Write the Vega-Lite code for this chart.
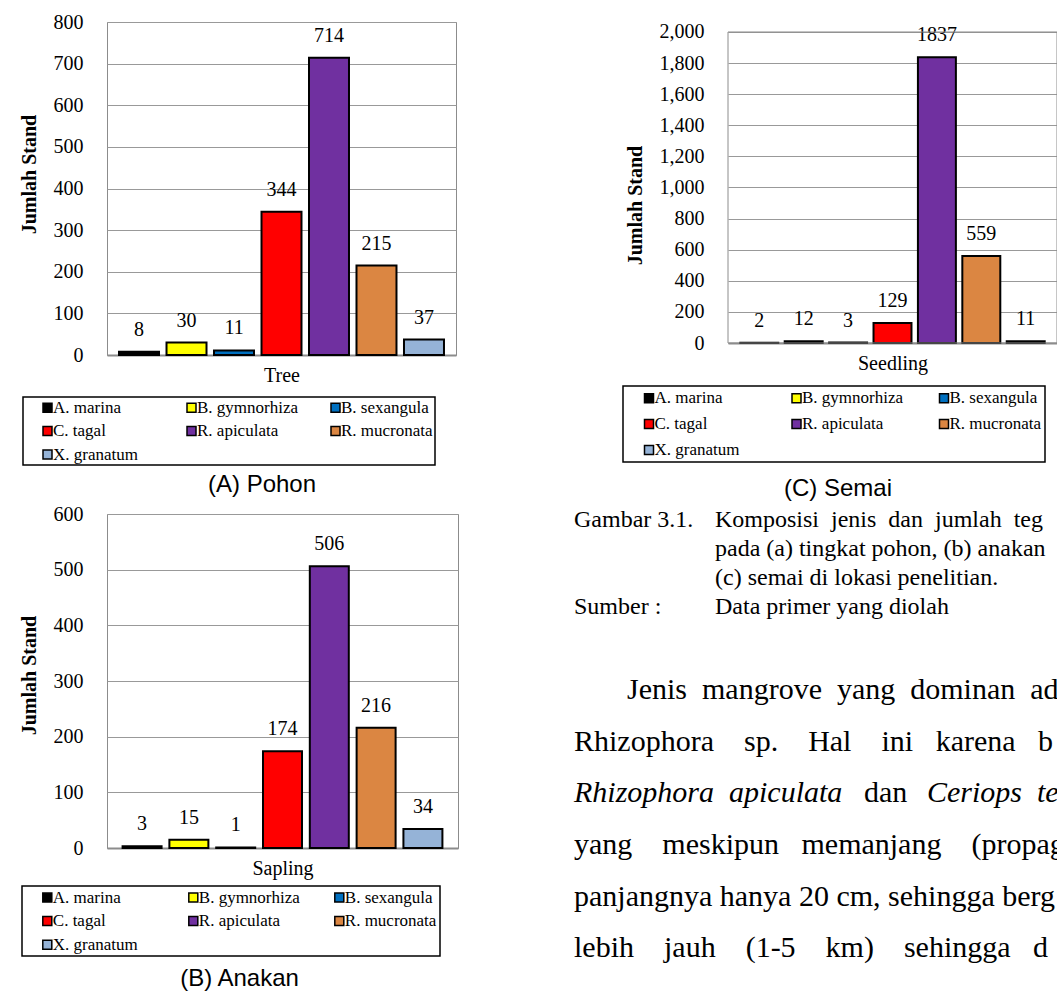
{
  "$schema": "https://vega.github.io/schema/vega-lite/v6.json",
  "background": "white",
  "padding": {"left": 18, "top": 11, "right": 0, "bottom": 0},
  "datasets": {
    "stands": [
      {"stage": "Tree", "species": "A. marina", "count": 8},
      {"stage": "Tree", "species": "B. gymnorhiza", "count": 30},
      {"stage": "Tree", "species": "B. sexangula", "count": 11},
      {"stage": "Tree", "species": "C. tagal", "count": 344},
      {"stage": "Tree", "species": "R. apiculata", "count": 714},
      {"stage": "Tree", "species": "R. mucronata", "count": 215},
      {"stage": "Tree", "species": "X. granatum", "count": 37},
      {"stage": "Sapling", "species": "A. marina", "count": 3},
      {"stage": "Sapling", "species": "B. gymnorhiza", "count": 15},
      {"stage": "Sapling", "species": "B. sexangula", "count": 1},
      {"stage": "Sapling", "species": "C. tagal", "count": 174},
      {"stage": "Sapling", "species": "R. apiculata", "count": 506},
      {"stage": "Sapling", "species": "R. mucronata", "count": 216},
      {"stage": "Sapling", "species": "X. granatum", "count": 34},
      {"stage": "Seedling", "species": "A. marina", "count": 2},
      {"stage": "Seedling", "species": "B. gymnorhiza", "count": 12},
      {"stage": "Seedling", "species": "B. sexangula", "count": 3},
      {"stage": "Seedling", "species": "C. tagal", "count": 129},
      {"stage": "Seedling", "species": "R. apiculata", "count": 1837},
      {"stage": "Seedling", "species": "R. mucronata", "count": 559},
      {"stage": "Seedling", "species": "X. granatum", "count": 11}
    ],
    "caption": [
      {"line": 1, "label": "Gambar 3.1.", "body": "Komposisi\u00a0\u00a0jenis\u00a0\u00a0dan\u00a0\u00a0jumlah\u00a0\u00a0teg"},
      {"line": 2, "label": "", "body": "pada (a) tingkat pohon, (b) anakan"},
      {"line": 3, "label": "", "body": "(c) semai di lokasi penelitian."},
      {"line": 4, "label": "Sumber :", "body": "Data primer yang diolah"}
    ],
    "paragraph": [
      {"line": 1, "seg": "indent", "text": "Jenis\u00a0\u00a0mangrove\u00a0\u00a0yang\u00a0\u00a0dominan\u00a0\u00a0ad"},
      {"line": 2, "seg": "full", "text": "Rhizophora\u00a0\u00a0\u00a0\u00a0sp.\u00a0\u00a0\u00a0\u00a0Hal\u00a0\u00a0\u00a0\u00a0ini\u00a0\u00a0\u00a0karena\u00a0\u00a0\u00a0b"},
      {"line": 3, "seg": "italic1", "text": "Rhizophora\u00a0\u00a0apiculata"},
      {"line": 3, "seg": "dan", "text": "dan"},
      {"line": 3, "seg": "italic2", "text": "Ceriops\u00a0\u00a0te"},
      {"line": 4, "seg": "full", "text": "yang\u00a0\u00a0\u00a0\u00a0meskipun\u00a0\u00a0\u00a0memanjang\u00a0\u00a0\u00a0\u00a0(propag"},
      {"line": 5, "seg": "full", "text": "panjangnya hanya 20 cm, sehingga berg"},
      {"line": 6, "seg": "full", "text": "lebih\u00a0\u00a0\u00a0\u00a0jauh\u00a0\u00a0\u00a0\u00a0(1-5\u00a0\u00a0\u00a0\u00a0km)\u00a0\u00a0\u00a0\u00a0sehingga\u00a0\u00a0\u00a0d"}
    ]
  },
  "spacing": 2,
  "resolve": {"scale": {"color": "independent"}, "legend": {"color": "independent"}},
  "vconcat": [
    {
      "hconcat": [
        {
          "width": 349, "height": 333,
          "data": {"name": "stands"},
          "transform": [{"filter": "datum.stage === 'Tree'"}],
          "title": {"text": "(A) Pohon", "orient": "bottom", "frame": "group", "anchor": "middle", "dx": -19.5, "offset": 7, "baseline": "top"},
          "encoding": {
            "x": {"field": "species", "type": "nominal", "scale": {"paddingInner": 0.158, "paddingOuter": 0.253}, "axis": {"title": "Tree"}},
            "y": {"field": "count", "type": "quantitative", "scale": {"domain": [0, 800], "nice": false}, "axis": {"title": "Jumlah Stand", "values": [0, 100, 200, 300, 400, 500, 600, 700, 800], "titleY": 152}}
          },
          "layer": [
            {"mark": {"type": "bar", "stroke": "black", "strokeWidth": 2},
             "encoding": {"color": {"field": "species", "type": "nominal",
               "scale": {"domain": ["A. marina", "B. gymnorhiza", "B. sexangula", "C. tagal", "R. apiculata", "R. mucronata", "X. granatum"], "range": ["#000000", "#ffff00", "#0070c0", "#ff0000", "#7030a0", "#db8642", "#95b3d7"]},
               "legend": {"title": null, "legendX": -84, "legendY": 375, "padding": 2, "rowPadding": 5.5, "columnPadding": 14}}}},
            {"mark": {"type": "text", "dy": -16, "baseline": "alphabetic", "font": "Liberation Serif", "fontSize": 20, "color": "black"},
             "encoding": {"text": {"field": "count", "type": "quantitative", "format": "d"}}}
          ]
        },
        {
          "width": 329, "height": 321,
          "data": {"name": "stands"},
          "view": {"stroke": null},
          "title": {"text": "(C) Semai", "orient": "bottom", "frame": "group", "anchor": "middle", "dx": -54.5, "offset": 14, "baseline": "top"},
          "layer": [
            {"transform": [{"filter": "datum.stage === 'Seedling'"}],
             "mark": {"type": "bar", "stroke": "black", "strokeWidth": 2},
             "encoding": {
               "x": {"field": "species", "type": "nominal", "scale": {"paddingInner": 0.145, "paddingOuter": 0.277}, "axis": {"title": "Seedling"}},
               "y": {"field": "count", "type": "quantitative", "scale": {"domain": [0, 2064.3], "nice": false}, "axis": {"title": "Jumlah Stand", "values": [0, 200, 400, 600, 800, 1000, 1200, 1400, 1600, 1800, 2000], "tickCount": 11, "format": ",.0f", "labelOverlap": false, "titleY": 183}},
               "color": {"field": "species", "type": "nominal",
               "scale": {"domain": ["A. marina", "B. gymnorhiza", "B. sexangula", "C. tagal", "R. apiculata", "R. mucronata", "X. granatum"], "range": ["#000000", "#ffff00", "#0070c0", "#ff0000", "#7030a0", "#db8642", "#95b3d7"]},
               "legend": {"title": null, "legendX": -105, "legendY": 364, "padding": 3.5, "rowPadding": 8, "columnPadding": 17.5}}}},
            {"transform": [{"filter": "datum.stage === 'Seedling'"}],
             "mark": {"type": "text", "dy": -16, "baseline": "alphabetic", "font": "Liberation Serif", "fontSize": 20, "color": "black"},
             "encoding": {
               "x": {"field": "species", "type": "nominal"},
               "y": {"field": "count", "type": "quantitative", "axis": {"title": "Jumlah Stand", "values": [0, 200, 400, 600, 800, 1000, 1200, 1400, 1600, 1800, 2000], "tickCount": 11, "format": ",.0f", "labelOverlap": false, "titleY": 183}},
               "text": {"field": "count", "type": "quantitative", "format": "d"}}},
            {"transform": [{"aggregate": [{"op": "count", "as": "n"}]}],
             "mark": {"type": "rect", "fill": null, "stroke": "#8c8c8c", "strokeWidth": 1},
             "encoding": {
               "y": {"datum": 0, "type": "quantitative", "axis": {"title": "Jumlah Stand", "values": [0, 200, 400, 600, 800, 1000, 1200, 1400, 1600, 1800, 2000], "tickCount": 11, "format": ",.0f", "labelOverlap": false, "titleY": 183}},
               "y2": {"datum": 2000}}}
          ]
        }
      ],
      "spacing": 272,
      "bounds": "flush",
      "resolve": {"scale": {"color": "independent"}, "legend": {"color": "independent"}}
    },
    {
      "hconcat": [
        {
          "width": 351, "height": 334,
          "data": {"name": "stands"},
          "transform": [{"filter": "datum.stage === 'Sapling'"}],
          "title": {"text": "(B) Anakan", "orient": "bottom", "frame": "group", "anchor": "middle", "dx": -43, "offset": 10, "baseline": "top"},
          "encoding": {
            "x": {"field": "species", "type": "nominal", "scale": {"paddingInner": 0.167, "paddingOuter": 0.333}, "axis": {"title": "Sapling"}},
            "y": {"field": "count", "type": "quantitative", "scale": {"domain": [0, 600], "nice": false}, "axis": {"title": "Jumlah Stand", "values": [0, 100, 200, 300, 400, 500, 600], "titleY": 161}}
          },
          "layer": [
            {"mark": {"type": "bar", "stroke": "black", "strokeWidth": 2},
             "encoding": {"color": {"field": "species", "type": "nominal",
               "scale": {"domain": ["A. marina", "B. gymnorhiza", "B. sexangula", "C. tagal", "R. apiculata", "R. mucronata", "X. granatum"], "range": ["#000000", "#ffff00", "#0070c0", "#ff0000", "#7030a0", "#db8642", "#95b3d7"]},
               "legend": {"title": null, "legendX": -85, "legendY": 372, "padding": 2.8, "rowPadding": 5.7, "columnPadding": 16}}}},
            {"mark": {"type": "text", "dy": -16, "baseline": "alphabetic", "font": "Liberation Serif", "fontSize": 20, "color": "black"},
             "encoding": {"text": {"field": "count", "type": "quantitative", "format": "d"}}}
          ]
        },
        {
          "width": 141, "height": 460,
          "view": {"stroke": null},
          "layer": [
            {
              "data": {"name": "caption"},
              "encoding": {"y": {"field": "line", "type": "quantitative", "scale": {"domain": [0.5414, 16.4034], "reverse": true, "nice": false, "zero": false}, "axis": null}},
              "layer": [
                {"mark": {"type": "text", "align": "left", "baseline": "alphabetic", "font": "Liberation Serif", "fontSize": 24, "color": "black"},
                 "encoding": {"x": {"value": 0}, "text": {"field": "label"}}},
                {"mark": {"type": "text", "align": "left", "baseline": "alphabetic", "font": "Liberation Serif", "fontSize": 24, "color": "black", "dx": 141},
                 "encoding": {"x": {"value": 0}, "text": {"field": "body"}}}
              ]
            },
            {
              "data": {"name": "paragraph"},
              "encoding": {"y": {"field": "line", "type": "quantitative", "scale": {"domain": [-2.5804, 6.3223], "reverse": true, "nice": false, "zero": false}, "axis": null}},
              "layer": [
                {"transform": [{"filter": "datum.seg === 'full'"}],
                 "mark": {"type": "text", "align": "left", "baseline": "alphabetic", "font": "Liberation Serif", "fontSize": 30, "color": "black"},
                 "encoding": {"x": {"value": 0}, "text": {"field": "text"}}},
                {"transform": [{"filter": "datum.seg === 'indent'"}],
                 "mark": {"type": "text", "align": "left", "baseline": "alphabetic", "font": "Liberation Serif", "fontSize": 30, "color": "black", "dx": 53},
                 "encoding": {"x": {"value": 0}, "text": {"field": "text"}}},
                {"transform": [{"filter": "datum.seg === 'italic1'"}],
                 "mark": {"type": "text", "align": "left", "baseline": "alphabetic", "font": "Liberation Serif", "fontSize": 30, "fontStyle": "italic", "color": "black"},
                 "encoding": {"x": {"value": 0}, "text": {"field": "text"}}},
                {"transform": [{"filter": "datum.seg === 'dan'"}],
                 "mark": {"type": "text", "align": "left", "baseline": "alphabetic", "font": "Liberation Serif", "fontSize": 30, "color": "black", "dx": 290},
                 "encoding": {"x": {"value": 0}, "text": {"field": "text"}}},
                {"transform": [{"filter": "datum.seg === 'italic2'"}],
                 "mark": {"type": "text", "align": "left", "baseline": "alphabetic", "font": "Liberation Serif", "fontSize": 30, "fontStyle": "italic", "color": "black", "dx": 353},
                 "encoding": {"x": {"value": 0}, "text": {"field": "text"}}}
              ]
            }
          ],
          "resolve": {"scale": {"y": "independent"}}
        }
      ],
      "spacing": 116,
      "bounds": "flush",
      "resolve": {"scale": {"color": "independent"}, "legend": {"color": "independent"}}
    }
  ],
  "config": {
    "font": "Liberation Serif",
    "view": {"stroke": "#8c8c8c", "strokeWidth": 1},
    "title": {"font": "Liberation Sans", "fontSize": 24, "fontWeight": "normal", "color": "black"},
    "axis": {"labelFont": "Liberation Serif", "labelFontSize": 20, "labelColor": "black", "titleFont": "Liberation Serif", "titleFontSize": 20, "titleColor": "black", "gridColor": "#999999", "gridWidth": 1, "domainColor": "#8c8c8c", "ticks": false, "tickSize": 0},
    "axisY": {"titleFontWeight": "bold", "labelPadding": 24, "domain": false, "titlePadding": 14, "grid": true},
    "axisX": {"titleFontWeight": "normal", "labels": false, "domainWidth": 2, "titlePadding": 10, "zindex": 1, "grid": false},
    "legend": {"orient": "none", "direction": "horizontal", "columns": 3, "gridAlign": "all", "strokeColor": "black", "strokeWidth": 1.5, "symbolType": "square", "symbolSize": 81, "symbolStrokeColor": "black", "symbolStrokeWidth": 1.5, "symbolOffset": 14, "labelOffset": -3, "labelFont": "Liberation Serif", "labelFontSize": 17, "labelColor": "black", "labelLimit": 0, "labelBaseline": "middle"}
  }
}
